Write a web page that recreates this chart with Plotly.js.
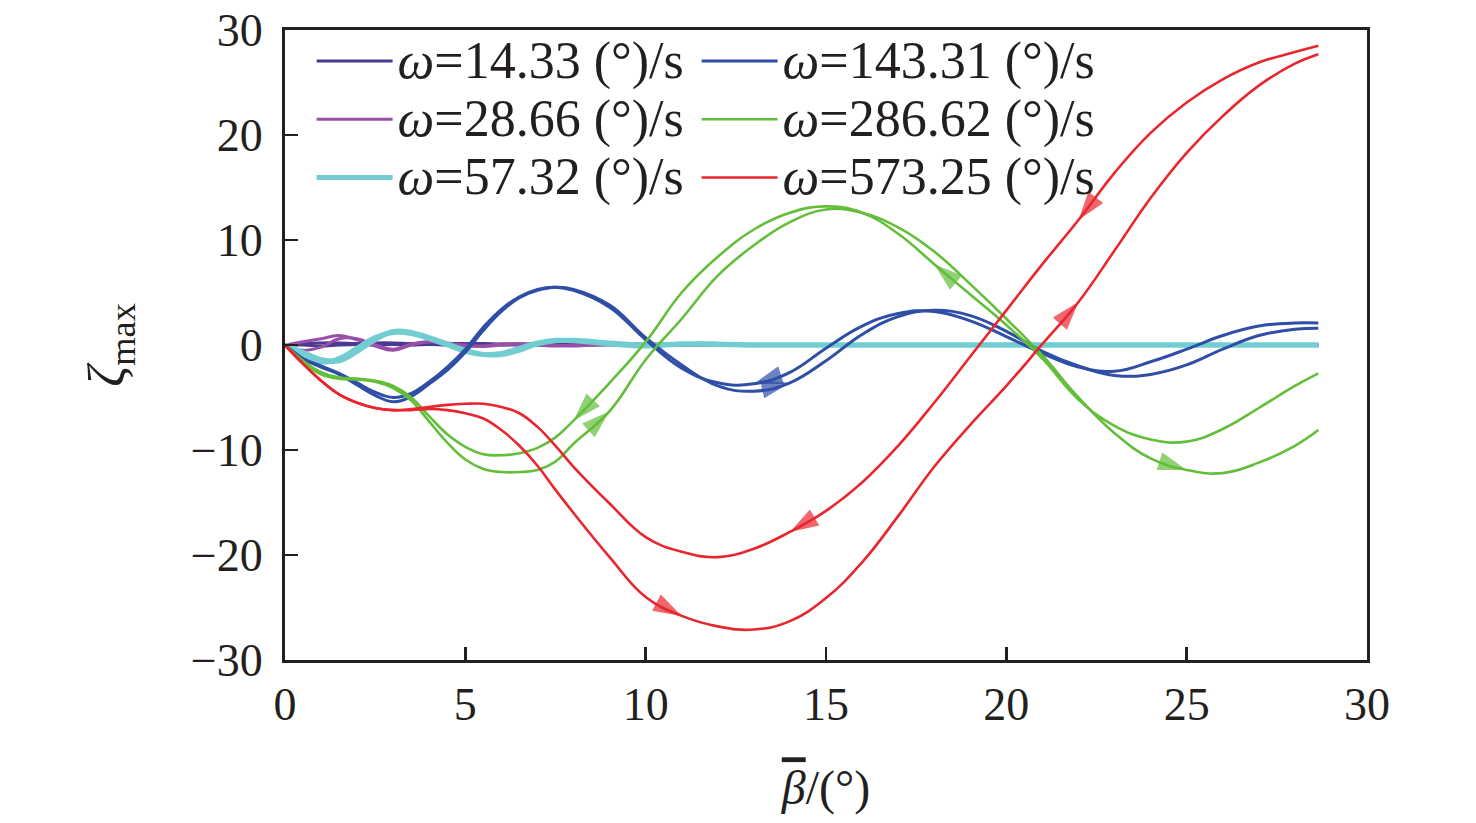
<!DOCTYPE html>
<html>
<head>
<meta charset="utf-8">
<script src="https://cdn.plot.ly/plotly-3.0.1.min.js"></script>
<style>html,body{margin:0;padding:0;background:#fff;}#chart{width:1476px;height:823px;}</style>
</head>
<body>
<div id="chart"></div>
<script>
// Shared x grid (beta-bar, degrees)
const beta = [0,0.5,1,1.5,2,2.5,3,3.5,4,4.5,5,5.5,6,6.5,7,7.5,8,9,10,11,12,13,14,15,16,17,18,19,20,21,22,23,24,25,26,27,28,28.65];

// Series names
const names = ["ω=14.33 (°)/s","ω=28.66 (°)/s","ω=57.32 (°)/s","ω=143.31 (°)/s","ω=286.62 (°)/s","ω=573.25 (°)/s"];

// zeta_max, forward branch (beta increasing) and backward branch (beta decreasing), listed by beta
const w14_fwd = [0,0.15,0.2,0.2,0.15,0.2,0.2,0.15,0.2,0.15,0.15,0.15,0.1,0.1,0.1,0.1,0.1,0.1,0.1,0.1,0.05,0.05,0.05,0.05,0.05,0.05,0.05,0.05,0,0,0,0,0,0,0,0,0,0];
const w14_bwd = [0,0.0,-0.1,0,0.05,0,0.05,0,0.05,0,0,0,0,0,0,0,0,0,0,0,0,0,0,0,0,0,0,0,0,0,0,0,0,0,0,0,0,0];
const w28_fwd = [0,0.3,0.6,0.9,0.5,-0.1,-0.5,0.0,0.3,0.2,-0.1,-0.1,0.1,0.1,0.0,-0.1,0.0,0.1,0.0,0.05,0,0,0,0,0,0,0,0,0,0,0,0,0,0,0,0,0,0];
const w28_bwd = [0,-0.5,-0.2,0.6,0.6,0.0,-0.4,0.1,0.3,0.1,0.0,-0.15,0.0,0.1,0.05,-0.05,-0.1,0.05,0,0,0,0,0,0,0,0,0,0,0,0,0,0,0,0,0,0,0,0];
const w57_fwd = [0,-0.8,-1.6,-1.3,-0.3,0.7,1.2,1.1,0.6,0.0,-0.6,-0.9,-0.8,-0.3,0.2,0.45,0.4,0.1,-0.1,0.1,0.1,0,0,0,0,0,0,0,0,0,0,0,0,0,0,0,0,0];
const w57_bwd = [0,-0.7,-1.4,-1.5,-0.6,0.5,1.3,1.2,0.7,0.1,-0.5,-0.9,-0.9,-0.5,0.1,0.4,0.45,0.2,0.0,0.1,0.05,0,0,0,0,0,0,0,0,0,0,0,0,0,0,0,0,0];
const w143_fwd = [0,-1.3,-2.1,-2.8,-3.8,-4.8,-5.4,-4.9,-3.7,-2.4,-0.7,1.4,3.2,4.5,5.2,5.5,5.3,3.8,0.7,-1.9,-3.9,-4.4,-3.6,-1.5,1.0,2.7,3.3,2.8,1.3,-0.6,-2.0,-2.9,-2.8,-1.9,-0.4,0.9,1.5,1.6];
const w143_bwd = [0,-1.3,-2.0,-2.7,-3.6,-4.5,-5.0,-4.6,-3.5,-2.1,-0.4,1.7,3.4,4.6,5.3,5.5,5.2,3.6,0.5,-2.2,-3.6,-3.7,-2.6,-0.3,1.8,3.0,3.2,2.3,0.8,-0.8,-2.1,-2.5,-1.6,-0.4,0.9,1.8,2.1,2.1];
const w286_fwd = [0,-1.6,-2.8,-3.2,-3.3,-3.5,-4.1,-5.3,-7.3,-9.3,-10.9,-11.8,-12.1,-12.1,-11.9,-11.1,-9.4,-6.3,-1.4,2.5,6.6,9.5,11.7,12.9,12.6,11.2,8.9,5.8,2.5,-1.0,-5.0,-8.4,-10.8,-11.9,-12.2,-11.2,-9.6,-8.1];
const w286_bwd = [0,-1.5,-2.6,-3.1,-3.2,-3.4,-3.9,-5.0,-6.8,-8.5,-9.7,-10.4,-10.5,-10.3,-9.8,-8.8,-7.2,-3.6,0.3,5.0,8.4,11.0,12.6,13.2,12.6,10.6,7.7,4.8,1.9,-1.3,-5.2,-7.7,-9.0,-9.2,-8.0,-6.0,-3.9,-2.7];
const w573_fwd = [0,-1.8,-3.4,-4.7,-5.5,-6.0,-6.2,-6.2,-6.1,-6.2,-6.5,-7.0,-8.1,-9.6,-11.5,-13.8,-16.0,-20.2,-24.0,-25.8,-26.8,-27.1,-26.3,-24.1,-20.7,-16.3,-11.6,-7.6,-3.9,0.1,4.1,9.0,14.0,18.3,21.8,24.7,26.8,27.7];
const w573_bwd = [0,-1.8,-3.4,-4.7,-5.5,-6.0,-6.2,-6.1,-5.9,-5.7,-5.6,-5.6,-5.9,-6.5,-7.8,-9.6,-11.6,-15.1,-18.3,-19.7,-20.2,-19.4,-17.8,-15.8,-13.1,-9.6,-5.5,-1.1,3.3,7.7,11.9,16.4,20.2,23.1,25.3,26.9,27.9,28.5];

// Direction arrows: beta positions on each branch
const arrows143_fwd = [14];
const arrows143_bwd = [13];
const arrows286_fwd = [9, 25];
const arrows286_bwd = [8, 18];
const arrows573_fwd = [11, 22];
const arrows573_bwd = [14, 22];

const colors = ["#4b3a92","#9a4fa8","#72cdd2","#2f4fa6","#63be3a","#e8262d"];
const widths = [3,3,5,3,2.6,2.6];

const series = [
  {fwd:w14_fwd, bwd:w14_bwd, af:[], ab:[]},
  {fwd:w28_fwd, bwd:w28_bwd, af:[], ab:[]},
  {fwd:w57_fwd, bwd:w57_bwd, af:[], ab:[]},
  {fwd:w143_fwd, bwd:w143_bwd, af:arrows143_fwd, ab:arrows143_bwd},
  {fwd:w286_fwd, bwd:w286_bwd, af:arrows286_fwd, ab:arrows286_bwd},
  {fwd:w573_fwd, bwd:w573_bwd, af:arrows573_fwd, ab:arrows573_bwd}
];

const FONT = "Liberation Serif";
const traces = [];
series.forEach((s, i) => {
  const revB = beta.slice().reverse();
  const revY = s.bwd.slice().reverse();
  traces.push({
    type: "scatter", mode: "lines",
    x: beta.concat([null], revB),
    y: s.fwd.concat([null], revY),
    name: '<span style="font-size:52px">' + names[i].replace("ω", "<i>ω</i>") + '</span>',
    legend: i < 3 ? "legend" : "legend2",
    legendgroup: "g" + i,
    connectgaps: false,
    line: {color: colors[i], width: widths[i], shape: "spline", smoothing: 1.2},
    hoverinfo: "skip"
  });
});
// arrow markers, built from the branch data
series.forEach((s, i) => {
  const ax = [], ay = [], sz = [];
  s.af.forEach(b => {
    const k = beta.indexOf(b);
    ax.push(beta[k-1], beta[k]); ay.push(s.fwd[k-1], s.fwd[k]); sz.push(0, 30);
  });
  s.ab.forEach(b => {
    const k = beta.indexOf(b);
    ax.push(beta[k+1], beta[k]); ay.push(s.bwd[k+1], s.bwd[k]); sz.push(0, 30);
  });
  if (ax.length) {
    traces.push({
      type: "scatter", mode: "markers", x: ax, y: ay,
      showlegend: false, legendgroup: "g" + i,
      legend: i < 3 ? "legend" : "legend2",
      marker: {symbol: "arrow", size: sz, color: colors[i], angleref: "previous", line: {width: 0}},
      hoverinfo: "skip"
    });
  }
});

const axisCommon = {
  showline: true, linecolor: "#231f20", linewidth: 3, mirror: true,
  ticks: "inside", ticklen: 13, tickwidth: 2.5, tickcolor: "#231f20",
  showgrid: false, zeroline: false,
  tickfont: {family: FONT, size: 46, color: "#231f20"}
};

const legendCommon = {
  y: 1.005, yanchor: "top", xanchor: "left",
  bgcolor: "rgba(0,0,0,0)", borderwidth: 0,
  font: {family: FONT, size: 42.5, color: "#231f20"},
  itemwidth: 76, tracegroupgap: 1, traceorder: "normal"
};

const layout = {
  width: 1476, height: 823,
  margin: {l: 285, r: 109, t: 30, b: 163},
  paper_bgcolor: "#fff", plot_bgcolor: "#fff",
  showlegend: true,
  xaxis: Object.assign({}, axisCommon, {
    range: [0, 30], dtick: 5, tick0: 0, ticklabelstandoff: 2,
    title: {text: "<i><span style=\"text-decoration:overline\">β</span></i>/(°)", font: {family: FONT, size: 48, color: "#231f20"}, standoff: 42}
  }),
  yaxis: Object.assign({}, axisCommon, {
    range: [-30, 30], dtick: 10, tick0: 0, ticklabelstandoff: 10,
    title: {text: "<i>ζ</i><sub>max</sub>", font: {family: FONT, size: 52, color: "#231f20"}, standoff: 50}
  }),
  legend: Object.assign({}, legendCommon, {x: 0.0246}),
  legend2: Object.assign({}, legendCommon, {x: 0.3804})
};

Plotly.newPlot("chart", traces, layout, {displayModeBar: false, staticPlot: true});
</script>
</body>
</html>
